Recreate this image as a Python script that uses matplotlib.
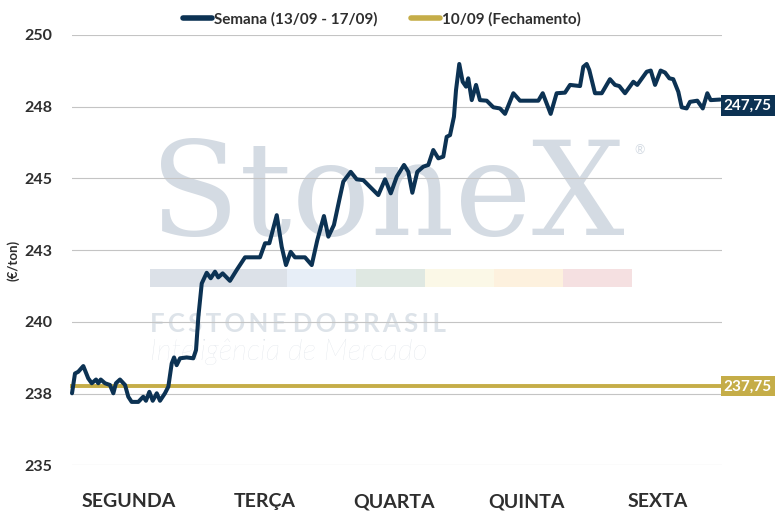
import matplotlib
matplotlib.use("Agg")
import matplotlib.pyplot as plt
from matplotlib.lines import Line2D
from matplotlib.patches import Rectangle
import matplotlib.transforms as mtransforms

# time in trading days from Monday open (0) to Friday close (5)
dias = [
    0.000, 0.023, 0.048, 0.087, 0.125, 0.152, 0.185, 0.202, 0.221, 0.254,
    0.292, 0.318, 0.338, 0.369, 0.408, 0.433, 0.459, 0.510, 0.548, 0.569,
    0.595, 0.621, 0.652, 0.677, 0.715, 0.741, 0.767, 0.785, 0.805, 0.831,
    0.882, 0.933, 0.954, 0.972, 0.998, 1.036, 1.067, 1.100, 1.125, 1.159,
    1.215, 1.267, 1.331, 1.446, 1.485, 1.518, 1.575, 1.613, 1.646, 1.682,
    1.715, 1.792, 1.844, 1.887, 1.938, 1.972, 2.015, 2.056, 2.087, 2.144,
    2.190, 2.241, 2.305, 2.356, 2.408, 2.452, 2.498, 2.554, 2.587, 2.618,
    2.656, 2.702, 2.741, 2.779, 2.818, 2.856, 2.882, 2.908, 2.938, 2.954,
    2.979, 3.005, 3.031, 3.048, 3.075, 3.108, 3.138, 3.190, 3.241, 3.292,
    3.331, 3.395, 3.446, 3.587, 3.621, 3.682, 3.728, 3.792, 3.831, 3.908,
    3.933, 3.959, 3.979, 4.023, 4.075, 4.138, 4.177, 4.210, 4.254, 4.318,
    4.348, 4.421, 4.452, 4.485, 4.528, 4.562, 4.595, 4.625, 4.664, 4.690,
    4.728, 4.754, 4.810, 4.852, 4.887, 4.913, 4.985,
]
semana = [
    237.51, 238.20, 238.26, 238.46, 238.03, 237.86, 237.99, 237.86, 237.99, 237.86,
    237.80, 237.51, 237.86, 237.99, 237.80, 237.39, 237.21, 237.21, 237.39, 237.25,
    237.56, 237.25, 237.51, 237.25, 237.51, 237.74, 238.55, 238.76, 238.49, 238.73,
    238.76, 238.73, 239.02, 240.18, 241.34, 241.71, 241.52, 241.75, 241.55, 241.69,
    241.43, 241.81, 242.25, 242.25, 242.74, 242.74, 243.72, 242.62, 241.98, 242.44,
    242.25, 242.25, 241.98, 242.85, 243.69, 242.97, 243.38, 244.25, 244.89, 245.23,
    244.97, 244.94, 244.65, 244.42, 244.97, 244.48, 245.06, 245.47, 245.23, 244.50,
    245.23, 245.41, 245.47, 245.99, 245.70, 245.76, 246.45, 246.51, 247.15, 248.08,
    248.99, 248.37, 248.20, 248.49, 247.73, 248.26, 247.73, 247.71, 247.48, 247.44,
    247.25, 247.97, 247.71, 247.71, 247.97, 247.25, 247.97, 247.99, 248.26, 248.22,
    248.89, 248.99, 248.78, 247.97, 247.97, 248.46, 248.26, 248.22, 247.97, 248.37,
    248.26, 248.72, 248.76, 248.26, 248.76, 248.69, 248.49, 248.46, 248.02, 247.48,
    247.44, 247.67, 247.71, 247.44, 247.97, 247.73, 247.75,
]
fechamento = 237.75
ultimo = 247.75

dias_semana = ["SEGUNDA", "TERÇA", "QUARTA", "QUINTA", "SEXTA"]
dias_pos = [0.435, 1.485, 2.477, 3.496, 4.504]
y_ticks = [235, 237.5, 240, 242.5, 245, 247.5, 250]
y_labels = ["235", "238", "240", "243", "245", "248", "250"]

NAVY = "#0c3253"
GOLD = "#c5ad48"
TXT = "#2e2e2e"
WM = "#d4dbe3"

plt.rcParams["font.family"] = ["Lato", "DejaVu Sans"]

fig = plt.figure(figsize=(7.75, 5.19), dpi=100)
W, H = 775, 519

# watermark (figure pixel coords)
fig.text(150 / W, 1 - 235 / H, "StoneX", family="DejaVu Serif", fontsize=94,
         color=WM, ha="left", va="baseline", zorder=0)
fig.text(634 / W, 1 - 150 / H, "®", fontsize=9, color=WM, ha="left", va="center", zorder=0)
strip = [(150, 287, "#dce1e8"), (287, 356, "#e7eef7"), (356, 425, "#dfe8e2"),
         (425, 494, "#fbf8e7"), (494, 563, "#fdf1de"), (563, 632, "#f5e0e1")]
for x0, x1, c in strip:
    fig.patches.append(Rectangle((x0 / W, 1 - 287 / H), (x1 - x0) / W, 18 / H,
                                 transform=fig.transFigure, fc=c, ec="none", zorder=0))
fig.text(150 / W, 1 - 332 / H, "F C S T O N E  D O  B R A S I L".replace(" ", "\u2009").replace("\u2009\u2009", " "),
         fontsize=18.5, weight="bold", color="#dde3e9", ha="left", va="baseline", zorder=0)
fig.text(150 / W, 1 - 360 / H, "Inteligência de Mercado", fontsize=21, style="italic",
         weight="light", color="#d9dfe6", ha="left", va="baseline", zorder=0)

ax = fig.add_axes([72 / W, 1 - 465.3 / H, 650 / W, 430.3 / H])
ax.set_zorder(2)
ax.patch.set_alpha(0)
ax.set_xlim(0, 5)
ax.set_ylim(235, 250)

ax.set_yticks(y_ticks)
ax.set_yticklabels(y_labels)
ax.set_xticks(dias_pos)
ax.set_xticklabels(dias_semana)
ax.grid(axis="y", color="#c4c4c4", lw=0.8)
ax.tick_params(length=0)
ax.tick_params(axis="y", pad=14, labelsize=11.5, labelcolor=TXT)
ax.tick_params(axis="x", pad=20, labelsize=14, labelcolor=TXT)
for lab in ax.get_xticklabels() + ax.get_yticklabels():
    lab.set_fontweight("bold")
for s in ax.spines.values():
    s.set_visible(False)

ax.axhline(fechamento, color=GOLD, lw=2.8, zorder=3, clip_on=False)
ax.plot(dias, semana, color=NAVY, lw=2.9, solid_joinstyle="round",
        solid_capstyle="round", zorder=4, clip_on=False)

trans = mtransforms.blended_transform_factory(ax.transAxes, ax.transData)
ax.annotate("247,75", xy=(1, ultimo), xycoords=trans, xytext=(1.2, -4.3),
            textcoords="offset points", ha="left", va="center", color="white",
            fontsize=11, weight="bold",
            bbox=dict(boxstyle="square,pad=0.2", fc=NAVY, ec="none"))
ax.annotate("237,75", xy=(1, fechamento), xycoords=trans, xytext=(1.2, 0),
            textcoords="offset points", ha="left", va="center", color="white",
            fontsize=11, weight="bold",
            bbox=dict(boxstyle="square,pad=0.2", fc=GOLD, ec="none"))

ax.set_ylabel("(€/ton)", fontsize=9.5, color=TXT, weight="bold")
ax.yaxis.set_label_coords(-52 / 650, (519 - 260 - 53.7) / 430.3)

handles = [Line2D([], [], color=NAVY, lw=4, solid_capstyle="round"),
           Line2D([], [], color=GOLD, lw=4, solid_capstyle="round")]
leg = fig.legend(handles, ["Semana (13/09 - 17/09)", "10/09 (Fechamento)"],
                 loc="center", bbox_to_anchor=(382 / W, 1 - 19 / H), ncol=2,
                 frameon=False, fontsize=11, handlelength=1.9, handletextpad=0.15,
                 columnspacing=2.2, labelcolor=TXT)
for t in leg.get_texts():
    t.set_fontweight("bold")

fig.savefig("out.png", dpi=100)
